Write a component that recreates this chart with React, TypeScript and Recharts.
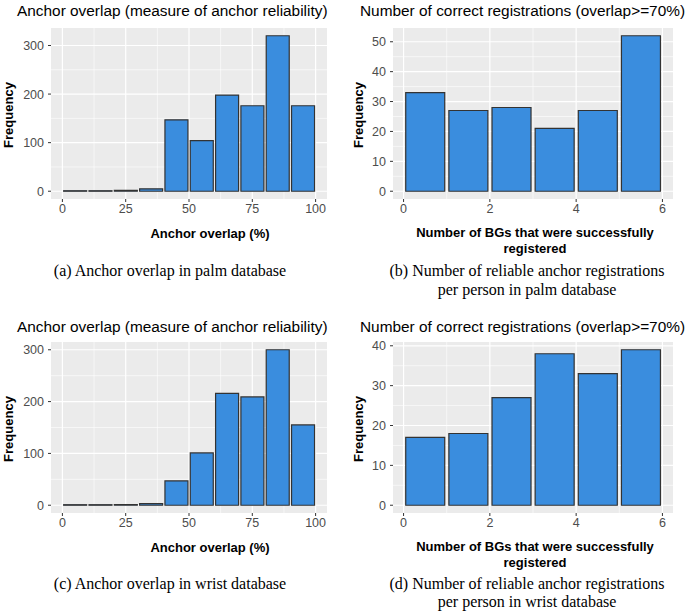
import React from 'react'
import { BarChart, Bar, XAxis, YAxis, CartesianGrid } from 'recharts'

// histogram bins (bar centres) and counts
const overlapBins = [5, 15, 25, 35, 45, 55, 65, 75, 85, 95]
const palmOverlap = [1, 1, 2, 5, 147, 104, 198, 176, 320, 176]
const wristOverlap = [1, 1, 1, 3, 47, 101, 216, 209, 300, 155]

const countBins = [0.5, 1.5, 2.5, 3.5, 4.5, 5.5]
const palmCounts = [33, 27, 28, 21, 27, 52]
const wristCounts = [17, 18, 27, 38, 33, 39]

const overlapTicks = [0, 25, 50, 75, 100]
const overlapMinor = [12.5, 37.5, 62.5, 87.5]
const countTicks = [0, 2, 4, 6]
const countMinor = [1, 3, 5]

const overlapYTicks = [0, 100, 200, 300]
const overlapYMinor = [50, 150, 250]
const palmCountYTicks = [0, 10, 20, 30, 40, 50]
const palmCountYMinor = [5, 15, 25, 35, 45]
const wristCountYTicks = [0, 10, 20, 30, 40]
const wristCountYMinor = [5, 15, 25, 35]

const titles = ['Anchor overlap (measure of anchor reliability)', 'Number of correct registrations (overlap>=70%)']
const xTitles = ['Anchor overlap (%)', 'Number of BGs that were successfully', 'registered']
const captions = [
  ['(a) Anchor overlap in palm database'],
  ['(b) Number of reliable anchor registrations', 'per person in palm database'],
  ['(c) Anchor overlap in wrist database'],
  ['(d) Number of reliable anchor registrations', 'per person in wrist database'],
]

const SANS = '"Liberation Sans", Arial, Helvetica, sans-serif'
const SERIF = '"Liberation Serif", "Times New Roman", serif'
const BAR_FILL = '#3A8DDE'
const BAR_STROKE = '#333333'

interface HistProps {
  bins: number[]
  counts: number[]
  xDomain: [number, number]
  xTicks: number[]
  xMinor: number[]
  yTicks: number[]
  yMinor: number[]
  width: number
  yAxisWidth: number
  right: number
}

function Histogram({ bins, counts, xDomain, xTicks, xMinor, yTicks, yMinor, width, yAxisWidth, right }: HistProps) {
  const data = bins.map((b, i) => ({ bin: b, count: counts[i] }))
  const max = Math.max(...counts)
  const tickStyle = { fill: '#4D4D4D', fontSize: 12.5, fontFamily: SANS }
  return (
    <BarChart
      width={width}
      height={215}
      data={data}
      margin={{ top: 28, right, left: 0, bottom: 0 }}
      barCategoryGap="5%"
    >
      <CartesianGrid fill="#EBEBEB" stroke="#FFFFFF" strokeWidth={0.6} horizontalValues={yMinor} verticalValues={xMinor} />
      <CartesianGrid stroke="#FFFFFF" strokeWidth={1.2} horizontalValues={yTicks} verticalValues={xTicks} />
      <XAxis
        type="number"
        dataKey="bin"
        domain={xDomain}
        ticks={xTicks}
        interval={0}
        allowDataOverflow
        axisLine={false}
        tickLine={{ stroke: '#333333' }}
        tickSize={3}
        tickMargin={2}
        tick={tickStyle}
        height={16}
      />
      <YAxis
        type="number"
        domain={[-0.05 * max, 1.05 * max]}
        ticks={yTicks}
        interval={0}
        allowDataOverflow
        axisLine={false}
        tickLine={{ stroke: '#333333' }}
        tickSize={3}
        tickMargin={4}
        tick={tickStyle}
        width={yAxisWidth}
      />
      <Bar dataKey="count" fill={BAR_FILL} stroke={BAR_STROKE} strokeWidth={1.2} isAnimationActive={false} />
    </BarChart>
  )
}

function Txt({ x, y, children, style, anchor = 'center' }: { x: number; y: number; children: React.ReactNode; style?: React.CSSProperties; anchor?: 'center' | 'left' }) {
  return (
    <div
      style={{
        position: 'absolute',
        left: x,
        top: y,
        whiteSpace: 'nowrap',
        transform: anchor === 'center' ? 'translate(-50%, -50%)' : 'translate(0, -50%)',
        lineHeight: 1,
        ...style,
      }}
    >
      {children}
    </div>
  )
}

const titleStyle: React.CSSProperties = { fontFamily: SANS, fontSize: 15.4, color: '#000' }
const axisTitleStyle: React.CSSProperties = { fontFamily: SANS, fontSize: 13, fontWeight: 'bold', color: '#000' }
const captionStyle: React.CSSProperties = { fontFamily: SERIF, fontSize: 16, color: '#000' }

export default function App() {
  const rows = [0, 314]
  return (
    <div style={{ position: 'absolute', left: 0, top: 0, width: 685, height: 615, background: '#fff', overflow: 'hidden' }}>
      {rows.map((top, r) => (
        <React.Fragment key={r}>
          <div style={{ position: 'absolute', left: 0, top }}>
            <Histogram
              bins={overlapBins}
              counts={r === 0 ? palmOverlap : wristOverlap}
              xDomain={[-4.5, 104.5]}
              xTicks={overlapTicks}
              xMinor={overlapMinor}
              yTicks={overlapYTicks}
              yMinor={overlapYMinor}
              width={340}
              yAxisWidth={51}
              right={13}
            />
          </div>
          <div style={{ position: 'absolute', left: 340, top }}>
            <Histogram
              bins={countBins}
              counts={r === 0 ? palmCounts : wristCounts}
              xDomain={[-0.245, 6.245]}
              xTicks={countTicks}
              xMinor={countMinor}
              yTicks={r === 0 ? palmCountYTicks : wristCountYTicks}
              yMinor={r === 0 ? palmCountYMinor : wristCountYMinor}
              width={345}
              yAxisWidth={53}
              right={12}
            />
          </div>

          <Txt x={17} y={11 + top + (r ? 2 : 0)} anchor="left" style={titleStyle}>{titles[0]}</Txt>
          <Txt x={360} y={11 + top + (r ? 2 : 0)} anchor="left" style={titleStyle}>{titles[1]}</Txt>

          <Txt x={8} y={115 + top} style={{ ...axisTitleStyle, transform: 'translate(-50%, -50%) rotate(-90deg)' }}>Frequency</Txt>
          <Txt x={358} y={115 + top} style={{ ...axisTitleStyle, transform: 'translate(-50%, -50%) rotate(-90deg)' }}>Frequency</Txt>

          <Txt x={210} y={233 + top} style={axisTitleStyle}>{xTitles[0]}</Txt>
          <Txt x={535} y={232 + top} style={axisTitleStyle}>{xTitles[1]}</Txt>
          <Txt x={535} y={248 + top} style={axisTitleStyle}>{xTitles[2]}</Txt>

          <Txt x={170} y={r ? 584 : 271} style={captionStyle}>{captions[r * 2][0]}</Txt>
          <Txt x={527} y={r ? 584 : 271} style={captionStyle}>{captions[r * 2 + 1][0]}</Txt>
          <Txt x={527} y={r ? 602 : 290} style={captionStyle}>{captions[r * 2 + 1][1]}</Txt>
        </React.Fragment>
      ))}
    </div>
  )
}
